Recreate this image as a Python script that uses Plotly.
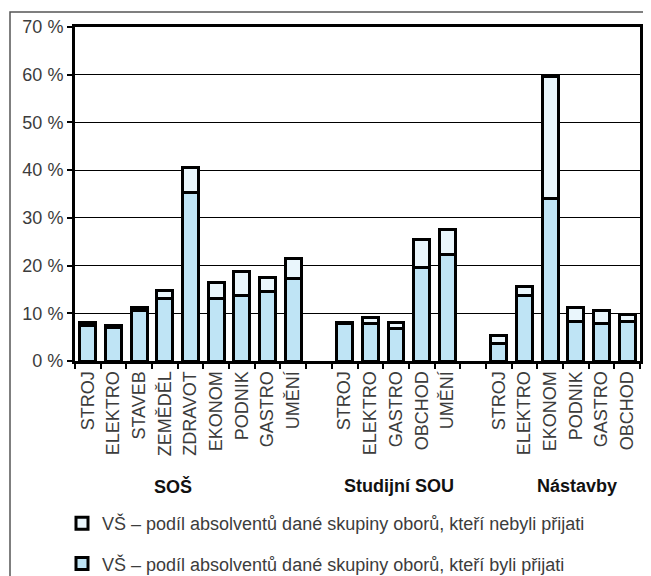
import plotly.graph_objects as go

# ---- data ----
groups = ["SOŠ", "Studijní SOU", "Nástavby"]
labels_sos = ["STROJ", "ELEKTRO", "STAVEB", "ZEMĚDĚL", "ZDRAVOT", "EKONOM", "PODNIK", "GASTRO", "UMĚNÍ"]
labels_sou = ["STROJ", "ELEKTRO", "GASTRO", "OBCHOD", "UMĚNÍ"]
labels_nas = ["STROJ", "ELEKTRO", "EKONOM", "PODNIK", "GASTRO", "OBCHOD"]

accepted_sos = [7.5, 7.0, 10.6, 13.1, 35.3, 13.1, 13.7, 14.5, 17.2]
rejected_sos = [0.6, 0.5, 0.6, 1.6, 5.2, 3.3, 5.0, 2.9, 4.3]
accepted_sou = [7.8, 7.9, 6.9, 19.6, 22.4]
rejected_sou = [0.3, 1.3, 1.1, 5.9, 5.2]
accepted_nas = [3.7, 13.8, 34.1, 8.2, 7.9, 8.2]
rejected_nas = [1.6, 1.8, 25.6, 3.0, 2.6, 1.6]

name_rejected = "VŠ – podíl absolventů dané skupiny oborů, kteří nebyli přijati"
name_accepted = "VŠ – podíl absolventů dané skupiny oborů, kteří byli přijati"

y_ticks = [0, 10, 20, 30, 40, 50, 60, 70]
y_tick_labels = ["0 %", "10 %", "20 %", "30 %", "40 %", "50 %", "60 %", "70 %"]

# ---- build category axis (with empty gap slots between groups) ----
keys, texts, acc, rej = [], [], [], []
blocks = [(labels_sos, accepted_sos, rejected_sos),
          (labels_sou, accepted_sou, rejected_sou),
          (labels_nas, accepted_nas, rejected_nas)]
for gi, (labs, a, r) in enumerate(blocks):
    if gi > 0:
        keys.append(f"gap{gi}")
        texts.append("")
        acc.append(None)
        rej.append(None)
    for lab, av, rv in zip(labs, a, r):
        keys.append(f"{groups[gi]}|{lab}")
        texts.append(lab)
        acc.append(av)
        rej.append(rv)

FONT = "Liberation Sans, Arial, sans-serif"
TXT = "#3c3c3c"

fig = go.Figure()
fig.add_trace(go.Bar(x=keys, y=acc, name=name_accepted, legendgroup="acc", legendrank=2,
                     marker=dict(color="#bfe4f5", line=dict(color="black", width=3))))
fig.add_trace(go.Bar(x=keys, y=rej, name=name_rejected, legendgroup="rej", legendrank=1,
                     marker=dict(color="#eaf6fc", line=dict(color="black", width=3))))

# page has an 8px body margin: figure is sized so it fills the 651x576 window
OFF = 8
W, H = 651 - OFF, 576 - OFF
# plot area in window pixels: x 75..640, y 27..361
L, T = 75 - OFF, 27 - OFF
R, B = W - (640 - OFF), H - (361 - OFF)
pw, ph = W - L - R, H - T - B

def px(xs):  # window pixel -> paper x
    return (xs - OFF - L) / pw

def py(ys):  # window pixel -> paper y
    return (H - B - (ys - OFF)) / ph

annotations = []
for g, xc in zip(groups, [173, 399, 577]):
    annotations.append(dict(text=g, x=px(xc), y=py(486), xref="paper", yref="paper",
                            showarrow=False, xanchor="center", yanchor="middle",
                            font=dict(family=FONT, size=18, color="#111111", weight="bold")))

fig.update_layout(
    width=W, height=H,
    margin=dict(l=L, r=R, t=T, b=B, autoexpand=False),
    barmode="stack", bargap=0.38,
    plot_bgcolor="white", paper_bgcolor="white",
    font=dict(family=FONT, size=18, color=TXT),
    showlegend=True,
    legend=dict(orientation="v", x=px(62), xanchor="left", y=py(505), yanchor="top",
                traceorder="grouped", tracegroupgap=14,
                font=dict(family=FONT, size=18, color=TXT), bgcolor="rgba(0,0,0,0)"),
    annotations=annotations,
    shapes=[dict(type="rect", xref="paper", yref="paper",
                 x0=px(10), x1=px(650), y0=py(590), y1=py(12),
                 line=dict(color="#555555", width=1.5), fillcolor="rgba(0,0,0,0)", layer="below")],
    xaxis=dict(type="category", categoryorder="array", categoryarray=keys,
               tickmode="array", tickvals=keys, ticktext=texts, tickangle=-90,
               tickson="boundaries", ticks="outside", ticklen=5, tickwidth=1.5, tickcolor="black",
               showline=True, linecolor="black", linewidth=3, mirror=True,
               showgrid=False, tickfont=dict(family=FONT, size=18, color=TXT)),
    yaxis=dict(range=[0, 70], tickmode="array", tickvals=y_ticks, ticktext=y_tick_labels,
               ticks="outside", ticklen=5, tickwidth=1.5, tickcolor="black",
               showline=True, linecolor="black", linewidth=3, mirror=True,
               showgrid=True, gridcolor="black", gridwidth=1, zeroline=False,
               ticklabelstandoff=0,
               tickfont=dict(family=FONT, size=18, color=TXT)),
)

fig.write_html("out.html")
